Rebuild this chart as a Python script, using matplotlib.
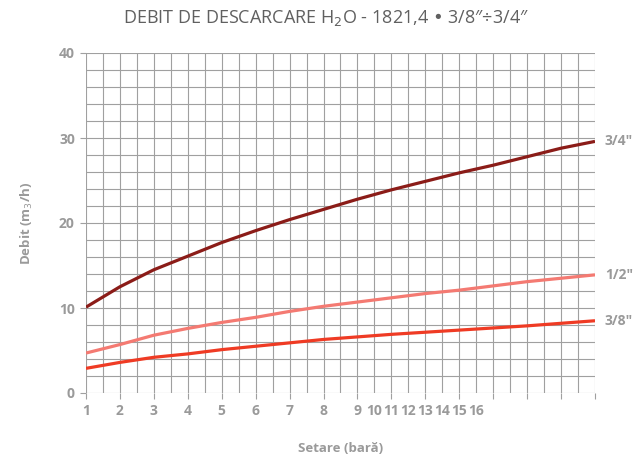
import matplotlib
matplotlib.use("Agg")
import matplotlib.pyplot as plt
from matplotlib.ticker import MultipleLocator
import matplotlib.transforms as mtransforms

plt.rcParams['font.family'] = ['Open Sans', 'DejaVu Sans']

setare = [1, 2, 3, 4, 5, 6, 7, 8, 9, 10, 11, 12, 13, 14, 15, 16]
debit_34 = [10.1, 12.5, 14.5, 16.1, 17.7, 19.1, 20.4, 21.6, 22.8, 23.9, 24.9, 25.9, 26.8, 27.8, 28.8, 29.6]
debit_12 = [4.7, 5.7, 6.8, 7.6, 8.3, 8.9, 9.6, 10.2, 10.7, 11.2, 11.7, 12.1, 12.6, 13.1, 13.5, 13.9]
debit_38 = [2.9, 3.6, 4.2, 4.6, 5.1, 5.5, 5.9, 6.3, 6.6, 6.9, 7.15, 7.4, 7.65, 7.9, 8.2, 8.5]
series_labels = ['3/4\u2033', '1/2\u2033', '3/8\u2033']
x_tick_labels = [str(v) for v in setare]

GRAY = '#9a9a9a'
fig = plt.figure(figsize=(6.37, 4.62), dpi=100)
ax = fig.add_axes([86/637, 1-393/462, (595-86)/637, (393-53)/462])

colors = ['#8b1c18', '#f47a72', '#ef3b24']
for ys, c in zip([debit_34, debit_12, debit_38], colors):
    ax.plot(setare, ys, color=c, lw=2.3, solid_capstyle='butt', zorder=3)
for ys, lab in zip([debit_34, debit_12, debit_38], series_labels):
    ax.annotate(lab, xy=(setare[-1], ys[-1]), xytext=(7, 0), textcoords='offset points',
                ha='left', va='center', fontsize=10, fontweight='bold', color=GRAY,
                annotation_clip=False)

ax.set_xlim(1, 16)
ax.set_ylim(0, 40)
ax.xaxis.set_major_locator(MultipleLocator(1))
ax.xaxis.set_minor_locator(MultipleLocator(0.5))
ax.yaxis.set_major_locator(MultipleLocator(10))
ax.yaxis.set_minor_locator(MultipleLocator(2))
ax.grid(which='both', color='#a0a0a0', lw=0.8, zorder=0)
for s in ax.spines.values():
    s.set_visible(False)
ax.tick_params(which='minor', length=0)
ax.tick_params(which='major', length=4, width=0.8, color='#a0a0a0', labelcolor=GRAY, labelsize=10, pad=4)
for t in ax.get_yticklabels():
    t.set_fontweight('bold')

ax.set_xticks(setare)
ax.set_xticklabels([l if i < 8 else '' for i, l in enumerate(x_tick_labels)], fontweight='bold')
trans = mtransforms.blended_transform_factory(ax.transData, ax.transAxes)
for i, l in enumerate(x_tick_labels[8:]):
    ax.text(9 + 0.5 * i, 0, l, transform=trans + mtransforms.ScaledTranslation(0, -8/72, fig.dpi_scale_trans),
            ha='center', va='top', fontsize=10, fontweight='bold', color=GRAY)

ax.set_xlabel('Setare (bară)', fontsize=9.5, fontweight='bold', color=GRAY, labelpad=17)
ax.set_ylabel('Debit (m$_3$/h)', fontsize=9.5, fontweight='bold', color=GRAY, labelpad=17)

fig.text(326/637, 1-18/462, 'DEBIT DE DESCARCARE H$_2$O - 1821,4 • 3/8\u2033÷3/4\u2033',
         ha='center', va='center', fontsize=13, color='#606060')

fig.savefig('out.png', dpi=100)
